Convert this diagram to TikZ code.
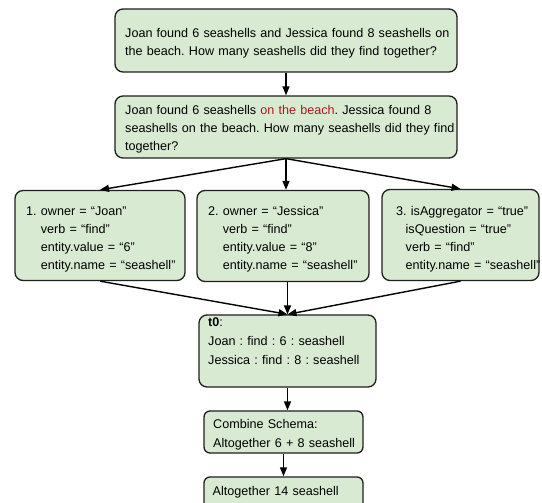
\documentclass[tikz,border=0pt]{standalone}
\usepackage{fontspec}
\setmainfont{Liberation Sans}
\usetikzlibrary{arrows.meta}
\definecolor{boxfill}{HTML}{D9EAD3}
\definecolor{boxline}{HTML}{1F1F1F}
\definecolor{redtext}{HTML}{A61C1C}
\frenchspacing
\begin{document}
\begin{tikzpicture}[x=1pt,y=1pt,
  box/.style={draw=boxline, line width=1.3pt, fill=boxfill, rounded corners=8pt, inner sep=0pt},
  txt/.style={inner sep=0pt, anchor=base west, align=left, text width=#1, font=\fontsize{12.6}{17.8}\selectfont},
  txtb/.style={inner sep=0pt, anchor=base west, align=left, text width=#1, font=\fontsize{12.6}{19.2}\selectfont},
  arr/.style={draw=black, line width=1.4pt, -{Triangle[length=9pt,width=7pt]}}]
\useasboundingbox (0,0) rectangle (542,-503);

% boxes
\node[box, minimum width=342pt, minimum height=63pt] (q1) at (286,-40.5) {};
\node[box, minimum width=342pt, minimum height=62pt] (q2) at (286,-127) {};
\node[box, minimum width=170pt, minimum height=90pt] (ra) at (100,-235.5) {};
\node[box, minimum width=172pt, minimum height=91pt] (rb) at (283,-236) {};
\node[box, minimum width=157pt, minimum height=91pt] (rc) at (460.5,-235) {};
\node[box, minimum width=177pt, minimum height=72pt] (t0) at (287.5,-351) {};
\node[box, minimum width=159pt, minimum height=42pt, rounded corners=6pt] (cs) at (283.5,-432) {};
\node[box, minimum width=159pt, minimum height=40pt, rounded corners=6pt] (fin) at (283.5,-497) {};

% texts
\node[txt=340pt] (q1t) at (125,-37.3) {Joan found 6 seashells and Jessica found 8 seashells on\\the beach. How many seashells did they find together?};
\node[txt=340pt] (q2t) at (125,-114.5) {Joan found 6 seashells \textcolor{redtext}{on the beach}. Jessica found 8\\seashells on the beach. How many seashells did they find\\together?};
\node[txt=165pt] (rat) at (26,-215.7) {1. owner = “Joan”\\\hphantom{1. }verb = “find”\\\hphantom{1. }entity.value = “6”\\\hphantom{1. }entity.name = “seashell”};
\node[txt=165pt] (rbt) at (208,-215.7) {2. owner = “Jessica”\\\hphantom{2. }verb = “find”\\\hphantom{2. }entity.value = “8”\\\hphantom{2. }entity.name = “seashell”};
\node[txt=150pt] (rct) at (396,-215.7) {3. isAggregator = “true”\\\hspace*{9.5pt}isQuestion = “true”\\\hspace*{9.5pt}verb = “find”\\\hspace*{9.5pt}entity.name = “seashell”};
\node[txtb=170pt] (t0t) at (208,-326.5) {\textbf{t0}:\\Joan : find : 6 : seashell\\Jessica : find : 8 : seashell};
\node[txtb=155pt] (cst) at (213,-428) {Combine Schema:\\Altogether 6 + 8 seashell};
\node[txt=155pt] (fint) at (212.5,-495) {Altogether 14 seashell};

% connectors
\draw[arr] (q1.south) -- (q2.north);
\draw[arr] (q2.south) -- (ra.north);
\draw[arr] (q2.south) -- (q2.south |- rb.north);
\draw[arr] (q2.south) -- (rc.north);
\draw[arr] (ra.south) -- (t0.north);
\draw[arr] (t0.north |- rb.south) -- (t0.north);
\draw[arr] (rc.south) -- (t0.north);
\draw[arr] (t0.south) -- (t0.south |- cs.north);
\draw[arr] (cs.south) -- (fin.north);
\end{tikzpicture}
\end{document}
